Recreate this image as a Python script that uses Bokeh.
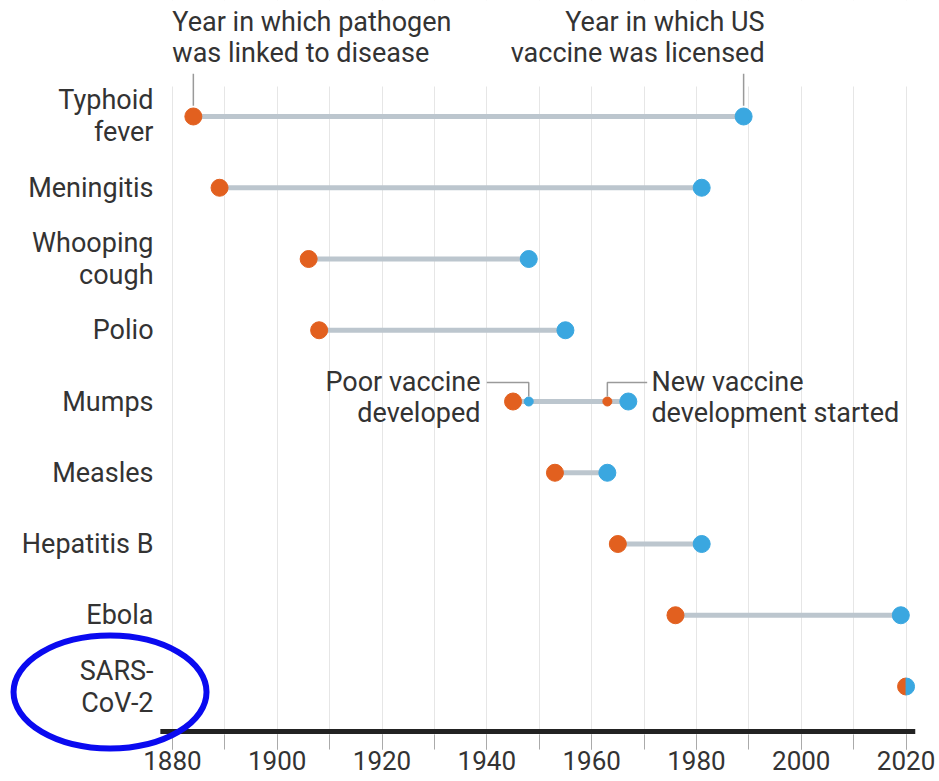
from math import pi
from bokeh.plotting import figure
from bokeh.models import Range1d, FixedTicker, Label, Arrow, BoxAnnotation
from bokeh.core.properties import value
from bokeh.embed import file_html
from bokeh.resources import INLINE

# ---- data ----
diseases = ["Typhoid\nfever", "Meningitis", "Whooping\ncough", "Polio", "Mumps",
            "Measles", "Hepatitis B", "Ebola", "SARS-\nCoV-2"]
linked = [1884, 1889, 1906, 1908, 1945, 1953, 1965, 1976, 2020]
licensed = [1989, 1981, 1948, 1955, 1967, 1963, 1981, 2019, 2020]
mumps_poor_vaccine = [1948]
mumps_new_dev = [1963]
year_ticks = [1880, 1900, 1920, 1940, 1960, 1980, 2000, 2020]
grid_years = list(range(1880, 2030, 10))

ORANGE = "#e2601f"
BLUE = "#3aa7e0"
CONN = "#bcc6ce"
TXT = "#333333"
LEAD = "#9a9a9a"
HILITE = "#0a0af0"
FONT = "Roboto"
FS = "27px"

n = len(diseases)
ys = [n - 1 - i for i in range(n)]
y_of = dict(zip(diseases, ys))
yt = y_of["Typhoid\nfever"]
ym = y_of["Mumps"]
ysars = y_of["SARS-\nCoV-2"]

X0, X1 = 1847.2, 2021.8       # x range (frame spans the full width)
AX_START = 1877.7              # where the baseline begins
Y0, Y1 = -0.884, 9.628
AXIS_Y = -0.632                # baseline position
LABEL_X = 1876.4               # right edge of the category labels

p = figure(width=935, height=781,
           x_range=Range1d(X0, X1), y_range=Range1d(Y0, Y1),
           output_backend="svg", toolbar_location=None,
           min_border_left=0, min_border_right=20,
           min_border_top=0, min_border_bottom=32)
p.outline_line_color = None
p.background_fill_color = "white"
p.yaxis.visible = False

# x axis (labels + ticks; the thick baseline is drawn as a band)
p.xaxis.ticker = FixedTicker(ticks=year_ticks, minor_ticks=grid_years)
p.xaxis.axis_line_color = None
p.xaxis.major_tick_in = 15
p.xaxis.major_tick_out = 0
p.xaxis.minor_tick_in = 15
p.xaxis.minor_tick_out = 0
p.xaxis.major_tick_line_color = "#aaaaaa"
p.xaxis.minor_tick_line_color = "#aaaaaa"
p.xaxis.major_label_text_font = FONT
p.xaxis.major_label_text_font_size = "26px"
p.xaxis.major_label_text_color = TXT
p.xaxis.major_label_standoff = 1

p.xgrid.ticker = FixedTicker(ticks=grid_years)
p.xgrid.grid_line_color = "#e6e6e6"
p.ygrid.grid_line_color = None

# white band at the top that hides the grid behind the header texts
p.add_layout(BoxAnnotation(bottom=yt + 0.42, fill_color="white", fill_alpha=1.0, line_color=None))
# thick baseline
p.add_layout(BoxAnnotation(left=AX_START, bottom=AXIS_Y - 0.035, top=AXIS_Y + 0.035,
                           fill_color="#222222", fill_alpha=1.0, line_color=None))

# category labels
p.text(x=[LABEL_X] * n, y=ys, text=diseases, text_align="right", text_baseline="middle",
       text_font=value(FONT), text_font_size=FS, text_color=TXT, text_line_height=1.0)

# connectors
p.segment(x0=linked, y0=ys, x1=licensed, y1=ys, line_color=CONN, line_width=5)

# dots
idx = [i for i in range(n) if linked[i] != licensed[i]]
p.scatter([linked[i] for i in idx], [ys[i] for i in idx], size=17, color=ORANGE)
p.scatter([licensed[i] for i in idx], [ys[i] for i in idx], size=17, color=BLUE)

same = [i for i in range(n) if linked[i] == licensed[i]]
p.wedge(x=[linked[i] for i in same], y=[ys[i] for i in same], radius=8.5, radius_units="screen",
        start_angle=pi / 2, end_angle=3 * pi / 2, color=ORANGE)
p.wedge(x=[licensed[i] for i in same], y=[ys[i] for i in same], radius=8.5, radius_units="screen",
        start_angle=-pi / 2, end_angle=pi / 2, color=BLUE)

p.scatter(mumps_poor_vaccine, [ym], size=9, color=BLUE)
p.scatter(mumps_new_dev, [ym], size=9, color=ORANGE)

# mumps leaders
p.line([mumps_poor_vaccine[0] - 8, mumps_poor_vaccine[0], mumps_poor_vaccine[0]],
       [ym + 0.267, ym + 0.267, ym + 0.07], line_color=LEAD, line_width=1.5)
p.line([mumps_new_dev[0], mumps_new_dev[0], mumps_new_dev[0] + 7.6],
       [ym + 0.07, ym + 0.267, ym + 0.267], line_color=LEAD, line_width=1.5)

p.add_layout(Label(x=mumps_poor_vaccine[0] - 9.2, y=ym, y_offset=4, text="Poor vaccine\ndeveloped",
                   text_align="right", text_baseline="middle", text_font=FONT,
                   text_font_size=FS, text_color=TXT, text_line_height=0.95))
p.add_layout(Label(x=mumps_new_dev[0] + 8.4, y=ym, y_offset=4, text="New vaccine\ndevelopment started",
                   text_align="left", text_baseline="middle", text_font=FONT,
                   text_font_size=FS, text_color=TXT, text_line_height=0.95))

# top annotations
p.add_layout(Label(x=linked[0], x_offset=-21, y=yt, y_offset=110,
                   text="Year in which pathogen\nwas linked to disease",
                   text_align="left", text_baseline="top", text_font=FONT,
                   text_font_size=FS, text_color=TXT, text_line_height=0.95))
p.add_layout(Label(x=licensed[0], x_offset=21, y=yt, y_offset=110,
                   text="Year in which US\nvaccine was licensed",
                   text_align="right", text_baseline="top", text_font=FONT,
                   text_font_size=FS, text_color=TXT, text_line_height=0.95))
p.add_layout(Arrow(end=None, x_start=linked[0], y_start=yt + 0.6, x_end=linked[0], y_end=yt + 0.15,
                   line_color=LEAD, line_width=1.5))
p.add_layout(Arrow(end=None, x_start=licensed[0], y_start=yt + 0.6, x_end=licensed[0], y_end=yt + 0.15,
                   line_color=LEAD, line_width=1.5))

# blue highlight ellipse around the SARS-CoV-2 label
p.ellipse(x=[LABEL_X - 8.3], y=[ysars - 0.077], width=193, height=113,
          width_units="screen", height_units="screen",
          fill_color=None, line_color=HILITE, line_width=6, level="overlay")

open("out.html", "w").write(file_html(p, INLINE))
